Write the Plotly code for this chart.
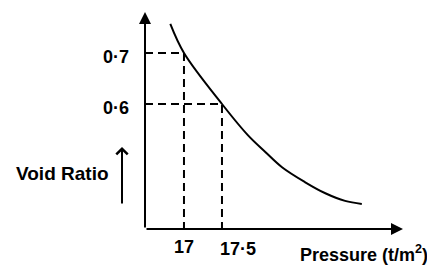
import plotly.graph_objects as go

# Data
pressure = [16.82, 17.0, 17.5, 17.84, 18.07, 18.29, 18.59, 18.86, 19.12, 19.34]
void_ratio = [0.757, 0.70, 0.60, 0.539, 0.506, 0.476, 0.447, 0.425, 0.410, 0.404]

marked_pressure = [17.0, 17.5]
marked_void = [0.7, 0.6]
x_tick_labels = ["17", "17·5"]
y_tick_labels = ["0·7", "0·6"]

x_title = "Pressure (t/m<sup>2</sup>)"
y_title = "Void Ratio"

x_range = [16.487, 19.882]
y_range = [0.3549, 0.7804]

FONT = "Liberation Sans, Arial, sans-serif"
# page body has an 8px margin; the figure is sized to fit the window
W, H = 427, 258
L, R, T, B = 137, 32, 4, 37
PW, PH = W - L - R, H - T - B

fig = go.Figure()

# dashed guide lines
for px_, vy in zip(marked_pressure, marked_void):
    fig.add_trace(go.Scatter(
        x=[x_range[0], px_, px_], y=[vy, vy, y_range[0]],
        mode="lines", line=dict(color="black", width=2, dash="8px,5px"),
        hoverinfo="skip", showlegend=False))

# curve
fig.add_trace(go.Scatter(
    x=pressure, y=void_ratio, mode="lines",
    line=dict(color="black", width=2, shape="spline", smoothing=1),
    showlegend=False))

annotations = []
# axes with arrowheads
annotations.append(dict(xref="paper", yref="paper", x=1, y=0, ax=-PW, ay=0,
                        text="", showarrow=True, arrowhead=2, arrowsize=1.2,
                        arrowwidth=2, arrowcolor="black", standoff=0))
annotations.append(dict(xref="paper", yref="paper", x=0, y=1, ax=0, ay=PH,
                        text="", showarrow=True, arrowhead=2, arrowsize=1.2,
                        arrowwidth=2, arrowcolor="black", standoff=0))

TICKFONT = dict(family=FONT, size=18, color="black")
TITLEFONT = dict(family=FONT, size=19, color="black")

# y tick labels
for v, t in zip(marked_void, y_tick_labels):
    annotations.append(dict(xref="paper", yref="y", x=0, y=v, xanchor="right",
                            yanchor="middle", xshift=-14, yshift=-4,
                            text="<b>%s</b>" % t, showarrow=False,
                            font=TICKFONT))
# x tick labels
annotations.append(dict(xref="x", yref="paper", x=marked_pressure[0], y=0,
                        xanchor="center", yanchor="top", yshift=-6,
                        text="<b>%s</b>" % x_tick_labels[0], showarrow=False,
                        font=TICKFONT))
annotations.append(dict(xref="x", yref="paper", x=marked_pressure[1], y=0,
                        xanchor="left", yanchor="top", xshift=-4, yshift=-8,
                        text="<b>%s</b>" % x_tick_labels[1], showarrow=False,
                        font=TICKFONT))

# axis titles
annotations.append(dict(xref="paper", yref="paper", x=(290 - L) / PW, y=0,
                        xanchor="left", yanchor="top", yshift=-11,
                        text="<b>%s</b>" % x_title, showarrow=False,
                        font=dict(family=FONT, size=18, color="black")))
annotations.append(dict(xref="paper", yref="paper", x=(6 - L) / PW,
                        y=(H - B - 165) / PH, xanchor="left", yanchor="middle",
                        text="<b>%s</b>" % y_title, showarrow=False,
                        font=TITLEFONT))
# up arrow next to y title
annotations.append(dict(xref="paper", yref="paper", x=(114 - L) / PW,
                        y=(H - B - 139) / PH, ax=0, ay=58, text="",
                        showarrow=True, arrowhead=4, arrowsize=1.1,
                        arrowwidth=2, arrowcolor="black", standoff=0))

fig.update_layout(
    width=W, height=H,
    margin=dict(l=L, r=R, t=T, b=B, autoexpand=False),
    paper_bgcolor="white", plot_bgcolor="white",
    xaxis=dict(range=x_range, showgrid=False, zeroline=False, showline=False,
               showticklabels=False, ticks=""),
    yaxis=dict(range=y_range, showgrid=False, zeroline=False, showline=False,
               showticklabels=False, ticks=""),
    annotations=annotations,
    showlegend=False,
)

fig.write_html("out.html")
